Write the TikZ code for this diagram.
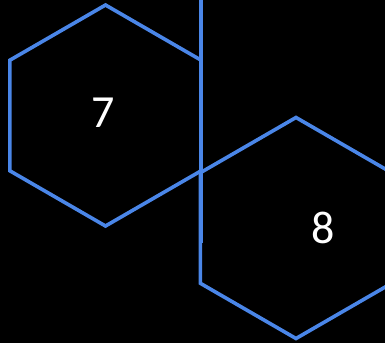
\documentclass[tikz,border=0pt]{standalone}
\usepackage{fontspec}
\setmainfont{Carlito}
\definecolor{hexblue}{HTML}{4A86E8}
\tikzset{
  hexline/.style={draw=hexblue, line width=3.6pt, line join=miter},
  hexlabel/.style={text=white, font=\fontsize{46}{50}\selectfont}
}
\begin{document}
\begin{tikzpicture}[x=1pt,y=-1pt]
\fill[black] (0,0) rectangle (385,343);
\useasboundingbox (0,0) rectangle (385,343);
\clip (0,0) rectangle (385,343);
\coordinate (c7) at (105.5,115.5);
\coordinate (c8) at (296,228);
% y runs down, so angles turn the other way
\draw [hexline] (c7) ++(270:110.5) \foreach \a in {150,90,30,330,270} { -- ++(\a:110.5) } -- cycle;
\draw [hexline] (c8) ++(270:110.5) \foreach \a in {150,90,30,330,270} { -- ++(\a:110.5) } -- cycle;
\coordinate (top) at (200.8,0);
\coordinate (low) at (200.8,243);
\draw [hexline] (top) -- (low);
\node [hexlabel] (n7) at (103,113) {7};
\node [hexlabel] (n8) at (323,228) {8};
\end{tikzpicture}
\end{document}
